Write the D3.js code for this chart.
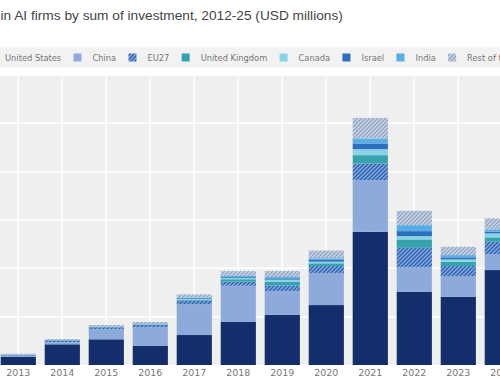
<!DOCTYPE html>
<html>
<head>
<meta charset="utf-8">
<script src="https://cdn.jsdelivr.net/npm/d3@7"></script>
<style>
  body { margin: 0; background: #fff; }
  svg { display: block; }
</style>
</head>
<body>
<svg id="chart" width="500" height="383"></svg>
<script>
var width = 500;
var height = 383;
var plotTop = 75;
var plotBottom = 365;

// all years in the chart, only 2013-2024 are in view
var allYears = ['2012','2013','2014','2015','2016','2017','2018','2019','2020','2021','2022','2023','2024','2025'];
var years = ['2013','2014','2015','2016','2017','2018','2019','2020','2021','2022','2023','2024'];

// USD millions
var unitedStates  = [4300, 10700, 13300, 9980, 15500, 22400, 25900, 31000, 68900, 37900, 35300, 49100];
var china         = [310, 1030, 5170, 9520, 16000, 18600, 12400, 16400, 26700, 12600, 10700, 8280];
var eu27          = [410, 780, 1030, 1290, 1810, 2070, 2740, 3780, 8640, 10100, 5170, 6360];
var unitedKingdom = [160, 160, 160, 260, 520, 1290, 2070, 1400, 4290, 4340, 2220, 2280];
var canada        = [100, 100, 100, 160, 360, 670, 1030, 880, 3100, 1710, 1240, 2070];
var israel        = [100, 160, 100, 160, 360, 410, 670, 880, 2950, 2590, 1030, 830];
var india         = [50, 100, 100, 160, 410, 570, 720, 880, 2590, 3100, 1190, 1240];
var restOfWorld   = [410, 410, 720, 720, 1550, 2590, 3100, 3980, 10650, 7400, 4290, 5690];

var seriesNames = ['United States','China','EU27','United Kingdom','Canada','Israel','India','Rest of the world'];
var seriesValues = [unitedStates, china, eu27, unitedKingdom, canada, israel, india, restOfWorld];
var yTicks = [0, 25000, 50000, 75000, 100000, 125000, 150000];

var fills = {
  'United States': '#142e6c',
  'China': '#8eaadb',
  'EU27': 'url(#hatchEU)',
  'United Kingdom': '#35a3ab',
  'Canada': '#8ad2e6',
  'Israel': '#2b6fbd',
  'India': '#58ade5',
  'Rest of the world': 'url(#hatchRest)'
};

// table for the stack
var table = years.map(function(y, i){
  var row = {year: y};
  seriesNames.forEach(function(s, j){ row[s] = seriesValues[j][i]; });
  return row;
});

var svg = d3.select('#chart');

// hatch patterns
var defs = svg.append('defs');
function hatch(id, bg, fg){
  var p = defs.append('pattern')
    .attr('id', id)
    .attr('patternUnits', 'userSpaceOnUse')
    .attr('width', 4)
    .attr('height', 4);
  p.append('rect').attr('width', 4).attr('height', 4).attr('fill', bg);
  p.append('path')
    .attr('d', 'M-1,1 l2,-2 M0,4 l4,-4 M3,5 l2,-2')
    .attr('stroke', fg)
    .attr('stroke-width', 1.4);
}
hatch('hatchEU', '#86a9dc', '#2c62b3');
hatch('hatchRest', '#cdd6e4', '#8fa5c6');

// scales
var xScale = d3.scaleBand()
  .domain(allYears)
  .range([-47.7, 568.3])
  .paddingInner(0.2)
  .paddingOuter(0.1);

var yScale = d3.scaleLinear()
  .domain([0, 150000])
  .range([plotBottom, plotTop]);

// title (left part is outside the frame)
svg.append('text')
  .attr('x', 0.5)
  .attr('y', 20)
  .attr('font-family', 'Liberation Sans, Arial, sans-serif')
  .attr('font-size', 13.7)
  .attr('fill', '#444')
  .text('in AI firms by sum of investment, 2012-25 (USD millions)');

// legend band
svg.append('rect')
  .attr('x', 0).attr('y', 47.5)
  .attr('width', width).attr('height', 20)
  .attr('fill', '#f2f2f2');

var legend = svg.append('g');
var lx = -14;
seriesNames.forEach(function(s){
  legend.append('rect')
    .attr('x', lx).attr('y', 53.5)
    .attr('width', 8).attr('height', 8)
    .attr('fill', fills[s]);
  var t = legend.append('text')
    .attr('x', lx + 19)
    .attr('y', 61)
    .attr('font-family', 'DejaVu Sans, sans-serif')
    .attr('font-size', 8.3)
    .attr('fill', '#777')
    .text(s);
  lx = lx + 19 + t.node().getComputedTextLength() + 12.3;
});

// plot background + grid
var graph = svg.append('g');
graph.append('rect')
  .attr('x', 0).attr('y', plotTop)
  .attr('width', width).attr('height', plotBottom - plotTop)
  .attr('fill', '#efefef');

graph.selectAll('.hgrid')
  .data(yTicks.slice(1))
  .enter().append('line')
  .attr('x1', 0).attr('x2', width)
  .attr('y1', function(d){ return yScale(d); })
  .attr('y2', function(d){ return yScale(d); })
  .attr('stroke', '#fff')
  .attr('stroke-width', 1.5);

graph.selectAll('.vgrid')
  .data(allYears)
  .enter().append('line')
  .attr('x1', function(d){ return xScale(d) + xScale.bandwidth() / 2; })
  .attr('x2', function(d){ return xScale(d) + xScale.bandwidth() / 2; })
  .attr('y1', plotTop).attr('y2', plotBottom)
  .attr('stroke', '#fff')
  .attr('stroke-width', 1.5);

// stacked bars
var stacked = d3.stack().keys(seriesNames)(table);

graph.selectAll('.layer')
  .data(stacked)
  .enter().append('g')
  .attr('fill', function(d){ return fills[d.key]; })
  .selectAll('rect')
  .data(function(d){ return d; })
  .enter().append('rect')
  .attr('x', function(d){ return xScale(d.data.year); })
  .attr('width', xScale.bandwidth())
  .attr('y', function(d){ return yScale(d[1]); })
  .attr('height', function(d){ return yScale(d[0]) - yScale(d[1]); });

// x axis, only the years that are in view get a label
var xAxisGen = d3.axisBottom(xScale).tickValues(years).tickSize(0).tickPadding(4);
var xAxis = svg.append('g')
  .attr('transform', 'translate(0,' + plotBottom + ')')
  .call(xAxisGen);
xAxis.select('.domain').remove();
xAxis.selectAll('text')
  .attr('font-family', 'DejaVu Sans, sans-serif')
  .attr('font-size', 9.5)
  .attr('fill', '#777');
</script>
</body>
</html>
